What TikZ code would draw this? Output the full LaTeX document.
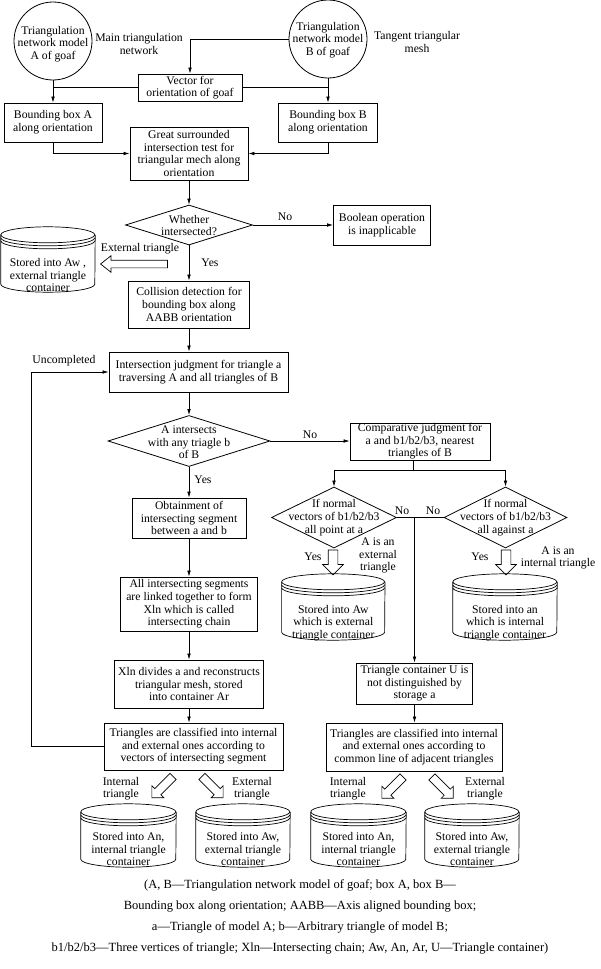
\documentclass[tikz,border=0pt]{standalone}
\usepackage{fontspec}
\setmainfont{Liberation Serif}
\usetikzlibrary{shapes.geometric,shapes.arrows,arrows.meta,calc}
\newcommand\fs{\fontsize{11.7pt}{12.6pt}\selectfont}
\newcommand\capfs{\fontsize{12.5pt}{14pt}\selectfont}
\newcommand\drum[7]{%
  \node[minimum width=#4pt, minimum height=#5pt, inner sep=0pt] (#1) at (#2,{#3+#5/2}) {};
  \draw[ln] ([yshift=-8pt]#1.north west) arc[start angle=180,end angle=-180,x radius={#4pt/2},y radius=8pt];
  \draw[ln] ([yshift=-11pt]#1.north west) arc[start angle=180,end angle=360,x radius={#4pt/2},y radius=8pt];
  \draw[ln] ([yshift=-14pt]#1.north west) arc[start angle=180,end angle=360,x radius={#4pt/2},y radius=8pt];
  \draw[ln] ([yshift=-8pt]#1.north west) -- ([yshift=8pt]#1.south west) arc[start angle=180,end angle=360,x radius={#4pt/2},y radius=8pt] -- ([yshift=-8pt]#1.north east);
  \node[txt] (#1t) at (#2,#6) {#7};
}
\begin{document}
\begin{tikzpicture}[x=1pt,y=-1pt,
  every node/.style={font=\fs},
  box/.style={draw, line width=0.8pt, align=center, inner sep=0pt},
  dia/.style={draw, diamond, line width=0.8pt, inner sep=0pt},
  circ/.style={draw, circle, line width=0.8pt, minimum size=78pt, inner sep=0pt},
  txt/.style={align=center, inner sep=0pt},
  ln/.style={line width=0.7pt},
  arr/.style={ln, -{Latex[length=6pt,width=3.6pt]}},
  barr/.style={draw, single arrow, line width=0.7pt, inner xsep=0pt, single arrow tip angle=90},
]
\useasboundingbox (0,0) rectangle (600,969);

% top
\node[circ] (circA) at (53,41) {};
\node[txt] (circAt) at (53,44) {Triangulation\\network model\\A of goaf};
\node[circ] (circB) at (328,39) {};
\node[txt] (circBt) at (328,40) {Triangulation\\network model\\B of goaf};
\node[txt] (labMain) at (139,44) {Main triangulation\\network};
\node[txt] (labTan) at (417,42) {Tangent triangular\\mesh};

\node[box, minimum width=104pt, minimum height=27pt] (vec) at (190,87.5) {Vector for\\orientation of goaf};
\node[box, minimum width=98pt, minimum height=39pt] (bbA) at (53,122.5) {Bounding box A\\along orientation};
\node[box, minimum width=99pt, minimum height=39pt] (bbB) at (328,122.5) {Bounding box B\\along orientation};
\node[box, minimum width=118pt, minimum height=53pt] (great) at (189,153.5) {Great surrounded\\intersection test for\\triangular mech along\\orientation};

\draw[arr] (circB.west) -| (vec.north);
\draw[arr] (circA.south) -- (bbA.north);
\draw[arr] (circB.south) -- (bbB.north);
\draw[ln] (vec.west) -- (vec.west -| bbA.north);
\draw[ln] (vec.east) -- (vec.east -| bbB.north);
\draw[arr] (bbA.south) |- (great.west);
\draw[arr] (bbB.south) |- (great.east);

% first decision
\node[dia, minimum width=127pt, minimum height=40pt] (d1) at (189,225) {};
\node[txt] (d1t) at (189,225.5) {Whether\\intersected?};
\draw[arr] (great.south) -- (d1.north);
\node[box, minimum width=97pt, minimum height=40pt] (bool) at (382,225) {Boolean operation\\is inapplicable};
\draw[arr] (d1.east) -- (bool.west);
\node[txt] (no1) at (285,217) {No};
\node[box, minimum width=121pt, minimum height=47pt] (coll) at (189,304.5) {Collision detection for\\bounding box along\\AABB orientation};
\draw[arr] (d1.south) -- (coll.north);
\node[txt] (yes1) at (210,263) {Yes};

\node[barr, minimum height=67pt, inner ysep=3.5pt, single arrow head extend=4.5pt, single arrow tip angle=77, rotate=180] (ba1) at (136.5,264) {};
\node[txt] (ext1) at (140,249) {External triangle};
\drum{cAw}{48}{227}{94}{65}{275}{Stored into Aw ,\\external triangle\\container}

% main loop
\node[box, minimum width=179pt, minimum height=40pt] (judge) at (198.5,372) {Intersection judgment for triangle a\\traversing A and all triangles of B};
\draw[arr] (coll.south) -- (coll.south |- judge.north);
\node[dia, minimum width=162pt, minimum height=51pt] (d2) at (189,441) {};
\node[txt] (d2t) at (189,442.5) {A intersects\\with any triagle b\\of B};
\draw[arr] (judge.south -| d2.north) -- (d2.north);
\node[box, minimum width=140pt, minimum height=37pt] (comp) at (420,441.5) {Comparative judgment for\\a and b1/b2/b3, nearest\\triangles of B};
\draw[arr] (d2.east) -- (d2.east -| comp.west);
\node[txt] (no2) at (310,435) {No};

\node[box, minimum width=114pt, minimum height=40pt] (obt) at (189,518) {Obtainment of\\intersecting segment\\between a and b};
\draw[arr] (d2.south) -- (obt.north);
\node[txt] (yes2) at (203,480) {Yes};
\node[box, minimum width=137pt, minimum height=54pt] (allseg) at (189,604) {All intersecting segments\\are linked together to form\\Xln which is called\\intersecting chain};
\draw[arr] (obt.south) -- (allseg.north);
\node[box, minimum width=149pt, minimum height=48pt] (xln) at (189,684) {Xln divides a and reconstructs\\triangular mesh, stored\\into container Ar};
\draw[arr] (allseg.south) -- (xln.north);
\node[box, minimum width=179pt, minimum height=47pt] (clsL) at (193.5,746.5) {Triangles are classified into internal\\and external ones according to\\vectors of intersecting segment};
\draw[arr] (xln.south) -- (xln.south |- clsL.north);
\draw[arr] (clsL.west) -- ++(-72,0) |- (judge.west);
\node[txt] (unc) at (64,361) {Uncompleted};

% right branch
\coordinate (split) at (413.5,470.5);
\draw[ln] (comp.south -| split) -- (split);
\node[dia, minimum width=125pt, minimum height=61pt] (d3) at (334,517.5) {};
\node[txt] (d3t) at (334,517.7) {If normal\\vectors of b1/b2/b3\\all point at a};
\node[dia, minimum width=123pt, minimum height=61pt] (d4) at (505.5,517.5) {};
\node[txt] (d4t) at (505.5,517.7) {If normal\\vectors of b1/b2/b3\\all against a};
\draw[arr] (split) -| (d3.north);
\draw[arr] (split) -| (d4.north);
\draw[ln] (d3.east) -- (d4.west);
\node[txt] (no3) at (402,511) {No};
\node[txt] (no4) at (433,511) {No};

\node[barr, minimum height=25pt, inner ysep=4.5pt, single arrow head extend=5.5pt, rotate=-90] (ba3) at (333,560) {};
\node[barr, minimum height=25pt, inner ysep=4.5pt, single arrow head extend=5.5pt, rotate=-90] (ba4) at (506,560) {};
\node[txt] (yes3) at (313,557) {Yes};
\node[txt] (yes4) at (480,557) {Yes};
\node[txt] (labE) at (378,555.7) {A is an\\external\\triangle};
\node[txt] (labI) at (558,558) {A is an\\internal triangle};
\drum{c3}{333.3}{574}{103}{66}{623}{Stored into Aw\\which is external\\triangle container}
\drum{c4}{505}{574}{104}{66}{623}{Stored into an\\which is internal\\triangle container}

\node[box, minimum width=116pt, minimum height=41pt] (U) at (414.5,683.5) {Triangle container U is\\not distinguished by\\storage a};
\draw[arr] (d3.east -| U.north) -- (U.north);
\node[box, minimum width=176pt, minimum height=48pt] (clsR) at (414,747) {Triangles are classified into internal\\and external ones according to\\common line of adjacent triangles};
\draw[arr] (U.south) -- (U.south |- clsR.north);

% bottom left group
\node[txt] (inL) at (121,788.5) {Internal\\triangle};
\node[txt] (exL) at (252,788.5) {External\\triangle};
\node[barr, minimum height=30pt, inner ysep=4pt, single arrow head extend=4pt, rotate=225] (baL1) at (164,785.5) {};
\node[barr, minimum height=30pt, inner ysep=4pt, single arrow head extend=4pt, rotate=-45] (baL2) at (211,785.5) {};
\drum{cL1}{128.5}{804}{95}{63}{849}{Stored into An,\\internal triangle\\container}
\drum{cL2}{243}{804}{94}{63}{849}{Stored into Aw,\\external triangle\\container}

% bottom right group
\node[txt] (inR) at (348,788.5) {Internal\\triangle};
\node[txt] (exR) at (485,788.5) {External\\triangle};
\node[barr, minimum height=30pt, inner ysep=4pt, single arrow head extend=4pt, rotate=225] (baR1) at (394,786) {};
\node[barr, minimum height=30pt, inner ysep=4pt, single arrow head extend=4pt, rotate=-45] (baR2) at (441,786) {};
\drum{cR1}{358.5}{804}{95}{63}{849}{Stored into An,\\internal triangle\\container}
\drum{cR2}{472}{804}{94}{63}{849}{Stored into Aw,\\external triangle\\container}

% caption
\node[txt, font=\capfs] (cap1) at (300,885) {(A, B—Triangulation network model of goaf; box A, box B—};
\node[txt, font=\capfs] (cap2) at (300,907) {Bounding box along orientation; AABB—Axis aligned bounding box;};
\node[txt, font=\capfs] (cap3) at (300,927) {a—Triangle of model A; b—Arbitrary triangle of model B;};
\node[txt, font=\capfs] (cap4) at (300,948) {b1/b2/b3—Three vertices of triangle; Xln—Intersecting chain; Aw, An, Ar, U—Triangle container)};
\end{tikzpicture}
\end{document}
